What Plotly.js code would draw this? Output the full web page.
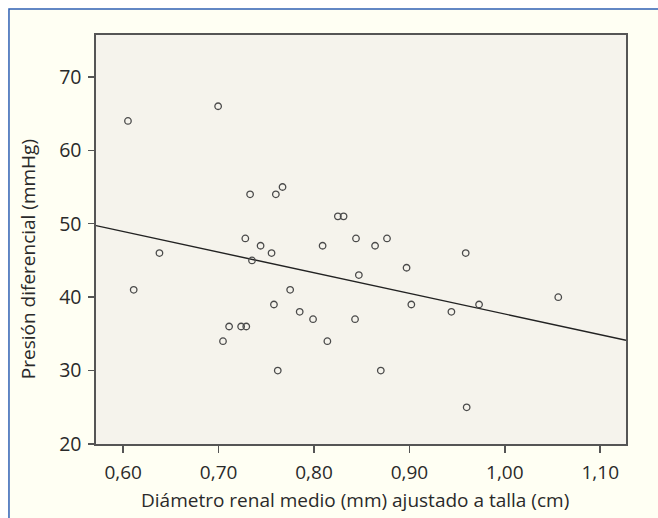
<!DOCTYPE html>
<html>
<head>
<meta charset="utf-8">
<script src="https://cdn.plot.ly/plotly-3.0.1.min.js"></script>
<style>
html,body{margin:0;padding:0;background:#fff;}
#chart{width:658px;height:518px;}
</style>
</head>
<body>
<div id="chart"></div>
<script>
// Data
const diametro = [0.605,0.611,0.638,0.6995,0.7046,0.711,0.7236,0.729,0.728,0.733,0.735,0.744,0.7555,0.758,0.760,0.762,0.767,0.775,0.785,0.799,0.809,0.814,0.825,0.831,0.844,0.843,0.847,0.864,0.870,0.8765,0.897,0.902,0.944,0.959,0.960,0.973,1.056];
const presion  = [64,41,46,66,34,36,36,36,48,54,45,47,46,39,54,30,55,41,38,37,47,34,51,51,48,37,43,47,30,48,44,39,38,46,25,39,40];
// Fitted regression line
const fitIntercept = 65.8;
const fitSlope = -28.1;
const xRange = [0.5715, 1.127];
const yRange = [20, 75.7];
const xTickVals = [0.6,0.7,0.8,0.9,1.0,1.1];
const xTickText = ["0,60","0,70","0,80","0,90","1,00","1,10"];
const yTickVals = [20,30,40,50,60,70];
const xTitle = "Diámetro renal medio (mm) ajustado a talla (cm)";
const yTitle = "Presión diferencial (mmHg)";

const fitX = xRange.slice();
const fitY = fitX.map(x => fitIntercept + fitSlope * x);

const font = "Open Sans, Noto Sans, sans-serif";
const txtColor = "#2a2a2a";
const traces = [
  {x: fitX, y: fitY, mode: "lines", type: "scatter", line: {color: "#222", width: 1.4}, hoverinfo: "skip"},
  {x: diametro, y: presion, mode: "markers", type: "scatter",
   marker: {symbol: "circle-open", size: 6.5, color: "#4a4a4a", line: {width: 1.3, color: "#4a4a4a"}}}
];

const layout = {
  width: 658, height: 518,
  margin: {l: 96, r: 32, t: 35, b: 74},
  paper_bgcolor: "#ffffff",
  plot_bgcolor: "rgba(0,0,0,0)",
  showlegend: false,
  font: {family: font, color: txtColor, size: 18},
  xaxis: {
    range: xRange, tickvals: xTickVals, ticktext: xTickText,
    ticks: "outside", ticklen: 7, tickwidth: 1.5, tickcolor: "#555",
    showline: true, linecolor: "#555", linewidth: 1.6, mirror: true,
    showgrid: false, zeroline: false, ticklabelstandoff: 4,
    tickfont: {size: 19, family: font, color: txtColor}
  },
  yaxis: {
    range: yRange, tickvals: yTickVals,
    ticks: "outside", ticklen: 6, tickwidth: 1.5, tickcolor: "#555",
    showline: true, linecolor: "#555", linewidth: 1.6, mirror: true,
    showgrid: false, zeroline: false, ticklabelstandoff: 3,
    tickfont: {size: 19.5, family: font, color: txtColor}
  },
  annotations: [
    {text: xTitle, xref: "paper", yref: "paper", x: 0.4887, y: -0.137,
     xanchor: "center", yanchor: "middle", showarrow: false,
     font: {size: 19, family: font, color: txtColor}},
    {text: yTitle, xref: "paper", yref: "paper", x: -0.128, y: 0.4523,
     xanchor: "center", yanchor: "middle", showarrow: false, textangle: -90,
     font: {size: 19, family: font, color: txtColor}}
  ],
  shapes: [
    {type: "rect", xref: "paper", yref: "paper", x0: -0.1642, x1: 1.07, y0: -0.2, y1: 1.0636,
     fillcolor: "#fffff3", line: {color: "#2f60b4", width: 1.5}, layer: "below"},
    {type: "rect", xref: "paper", yref: "paper", x0: 0, x1: 1, y0: 0, y1: 1,
     fillcolor: "#f5f3ec", line: {width: 0}, layer: "below"}
  ]
};

Plotly.newPlot("chart", traces, layout, {displayModeBar: false, staticPlot: true});
</script>
</body>
</html>
